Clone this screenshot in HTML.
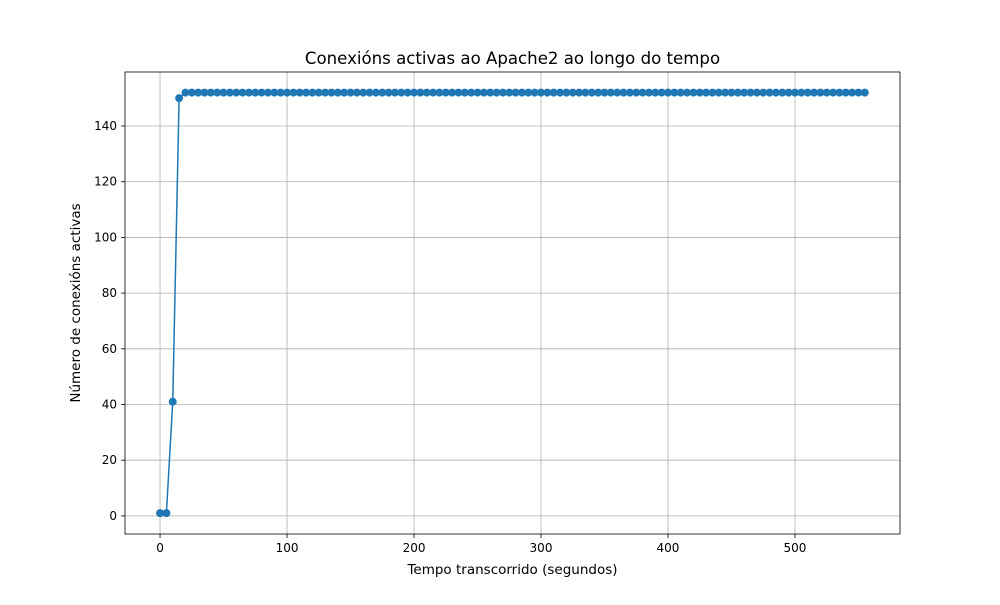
<!DOCTYPE html>
<html><head><meta charset="utf-8"><style>
body{margin:0;background:#fff;font-family:"Liberation Sans","DejaVu Sans",sans-serif}
</style></head><body>
<svg id="chart" width="1000" height="600" xmlns="http://www.w3.org/2000/svg" font-family="DejaVu Sans, Liberation Sans, sans-serif"></svg>
<script>
const xTicks=[0,100,200,300,400,500];
const yTicks=[0,20,40,60,80,100,120,140];
const times=[];for(let t=0;t<=555;t+=5)times.push(t);
const firstValues=[1,1,41,150];
const steadyValue=152;
const values=times.map((t,i)=>i<firstValues.length?firstValues[i]:steadyValue);
const L=125,R=900,T=72,B=534;
const xmin=-27.6,xmax=582.7,ymin=-6.5,ymax=159.4;
const X=v=>L+(v-xmin)/(xmax-xmin)*(R-L);
const Y=v=>B-(v-ymin)/(ymax-ymin)*(B-T);
const svg=document.getElementById('chart');
const NS='http://www.w3.org/2000/svg';
function mk(tag,attrs,parent){const e=document.createElementNS(NS,tag);for(const k in attrs)e.setAttribute(k,attrs[k]);(parent||svg).appendChild(e);return e;}
const grid=mk('g',{});


xTicks.forEach(v=>{
  mk('line',{x1:X(v),x2:X(v),y1:T,y2:B,stroke:'#b0b0b0','stroke-width':0.8},grid);
  mk('line',{x1:X(v),x2:X(v),y1:B,y2:B+4,stroke:'#000','stroke-width':0.8});
  const t=mk('text',{x:X(v),y:B+18,'text-anchor':'middle','font-size':12});t.textContent=v;
  
  
});
yTicks.forEach(v=>{
  mk('line',{x1:L,x2:R,y1:Y(v),y2:Y(v),stroke:'#b0b0b0','stroke-width':0.8},grid);
  mk('line',{x1:L-4,x2:L,y1:Y(v),y2:Y(v),stroke:'#000','stroke-width':0.8});
  const t=mk('text',{x:L-8,y:Y(v)+4,'text-anchor':'end','font-size':12});t.textContent=v;
  
  
});
const line=mk('polyline',{points:times.map((t,i)=>X(t)+','+Y(values[i])).join(' '),fill:'none',stroke:'#1f77b4','stroke-width':1.5});


times.forEach((t,i)=>{
  const c=mk('circle',{cx:X(t),cy:Y(values[i]),r:4,fill:'#1f77b4'});
  
  
});
const frame=mk('rect',{x:L,y:T,width:R-L,height:B-T,fill:'none',stroke:'#000','stroke-width':0.8});


const title=mk('text',{x:(L+R)/2,y:64,'text-anchor':'middle','font-size':16.6});title.textContent='Conexións activas ao Apache2 ao longo do tempo';


const xl=mk('text',{x:(L+R)/2,y:574,'text-anchor':'middle','font-size':13.5});xl.textContent='Tempo transcorrido (segundos)';


const yl=mk('text',{x:0,y:0,'text-anchor':'middle','font-size':13.5,transform:`translate(80,${(T+B)/2}) rotate(-90)`});yl.textContent='Número de conexións activas';


</script>
</body></html>
